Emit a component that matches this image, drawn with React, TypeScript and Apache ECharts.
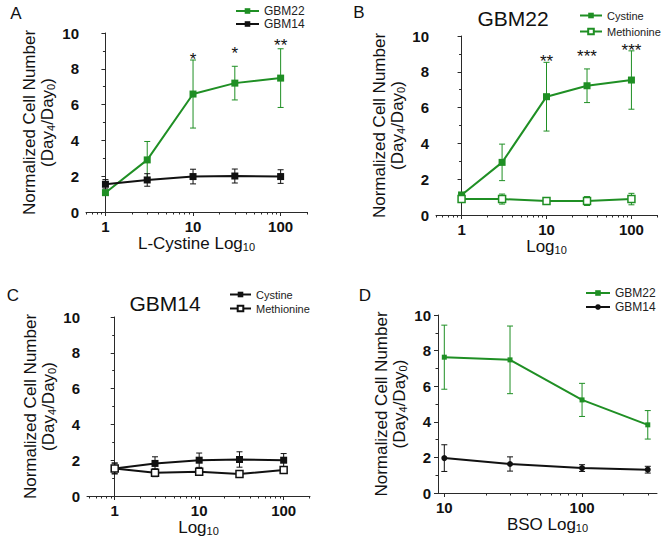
import React, { useEffect, useRef } from "react";
import * as echarts from "echarts";

// ---------- data ----------
const concA = [1, 3, 10, 30, 100];
const aGbm22 = [1.08, 2.91, 6.59, 7.2, 7.48];
const aGbm22Err = [0.12, 1.03, 1.9, 0.94, 1.64];
const aGbm14 = [1.55, 1.79, 1.98, 2.01, 1.98];
const aGbm14Err = [0.26, 0.35, 0.41, 0.39, 0.38];
const aStarConc = [10, 30, 100];
const aStarY = [8.77, 9.1, 9.53];
const aStarText = ["*", "*", "**"];

const concB = [1, 3, 10, 30, 100];
const bCystine = [1.12, 2.94, 6.61, 7.22, 7.54];
const bCystineErr = [0.1, 1.02, 1.92, 0.94, 1.63];
const bMethionine = [0.89, 0.89, 0.78, 0.78, 0.89];
const bMethionineErr = [0.18, 0.28, 0.19, 0.25, 0.32];
const bStarConc = [10, 30, 100];
const bStarY = [8.8, 9.07, 9.4];
const bStarText = ["**", "***", "***"];

const concC = [1, 3, 10, 30, 100];
const cCystine = [1.54, 1.82, 2.0, 2.04, 2.0];
const cCystineErr = [0.3, 0.37, 0.4, 0.43, 0.37];
const cMethionine = [1.54, 1.3, 1.36, 1.23, 1.45];
const cMethionineErr = [0.3, 0.22, 0.2, 0.1, 0.15];

const concD = [10, 30, 100, 300];
const dGbm22 = [7.63, 7.48, 5.23, 3.83];
const dGbm22Err = [1.8, 1.9, 0.93, 0.8];
const dGbm14 = [1.96, 1.63, 1.4, 1.31];
const dGbm14Err = [0.75, 0.4, 0.19, 0.19];

const majorTicks13 = [1, 10, 100];
const minorTicks13 = [0.5, 0.6, 0.7, 0.8, 0.9, 2, 3, 4, 5, 6, 7, 8, 9, 20, 30, 40, 50, 60, 70, 80, 90, 200];
const majorTicksD = [10, 100];
const minorTicksD = [20, 30, 40, 50, 60, 70, 80, 90, 200, 300];

// ---------- styles ----------
const GREEN = "#1f8f24";
const BLACK = "#111111";
const AXIS = "#2a2a2a";
const FONT = "'Liberation Sans', Arial, Helvetica, sans-serif";

const lg = (v: number) => Math.log10(v);

type Panel = {
  grid: { left: number; top: number; width: number; height: number };
  xMin: number;
  xMax: number;
  majors: number[];
  minors: number[];
  xName: string;
};

const panels: Panel[] = [
  { grid: { left: 86, top: 33, width: 221, height: 179 }, xMin: 0.6, xMax: 200, majors: majorTicks13, minors: minorTicks13, xName: "{m|L-Cystine Log}{s|10}" },
  { grid: { left: 436, top: 36, width: 221, height: 179 }, xMin: 0.5, xMax: 200, majors: majorTicks13, minors: minorTicks13, xName: "{m|Log}{s|10}" },
  { grid: { left: 87, top: 317, width: 223, height: 179 }, xMin: 0.47, xMax: 205, majors: majorTicks13, minors: minorTicks13, xName: "{m|Log}{s|10}" },
  { grid: { left: 438, top: 315, width: 219, height: 178 }, xMin: 9, xMax: 350, majors: majorTicksD, minors: minorTicksD, xName: "{m|BSO Log}{s|10}" },
];

const richName = {
  m: { fontSize: 17, lineHeight: 18, fontFamily: FONT, color: "#111" },
  s: { fontSize: 11, lineHeight: 6, verticalAlign: "bottom", fontFamily: FONT, color: "#111" },
};

function buildOption() {
  const grid: any[] = [];
  const xAxis: any[] = [];
  const yAxis: any[] = [];
  const series: any[] = [];

  panels.forEach((p, i) => {
    grid.push({ ...p.grid, containLabel: false });
    const min = lg(p.xMin);
    const max = lg(p.xMax);
    const minorsIn = p.minors.filter((v) => v >= p.xMin && v <= p.xMax).map(lg);
    xAxis.push({
      type: "value",
      gridIndex: i,
      min,
      max,
      position: "bottom",
      axisLine: { show: true, lineStyle: { color: AXIS, width: 1 } },
      axisTick: { show: true, customValues: p.majors.map(lg), length: 4, lineStyle: { color: AXIS } },
      axisLabel: {
        customValues: p.majors.map(lg),
        formatter: (v: number) => String(Math.round(Math.pow(10, v))),
        fontWeight: "bold",
        fontSize: 15,
        fontFamily: FONT,
        color: "#111",
        margin: 7,
      },
      splitLine: { show: false },
      name: p.xName,
      nameLocation: "middle",
      nameGap: 19,
      nameTextStyle: { rich: richName },
    });
    xAxis.push({
      type: "value",
      gridIndex: i,
      min,
      max,
      position: "bottom",
      axisLine: { show: false },
      axisTick: { show: true, customValues: minorsIn, length: 2.5, lineStyle: { color: AXIS } },
      axisLabel: { show: false },
      splitLine: { show: false },
    });
    yAxis.push({
      type: "value",
      gridIndex: i,
      min: 0,
      max: 10,
      interval: 2,
      axisLine: { show: true, lineStyle: { color: AXIS, width: 1 } },
      axisTick: { show: true, length: 4, lineStyle: { color: AXIS } },
      minorTick: { show: true, splitNumber: 2, length: 2.5, lineStyle: { color: AXIS } },
      axisLabel: { fontWeight: "bold", fontSize: 15, fontFamily: FONT, color: "#111", margin: 7 },
      splitLine: { show: false },
      name: "{m|Normalized Cell Number}\n{m|(Day}{s|4}{m|/Day}{s|0}{m|)}",
      nameLocation: "middle",
      nameRotate: 90,
      nameGap: 30,
      nameTextStyle: { rich: richName },
    });
  });

  const addLine = (
    name: string,
    panel: number,
    conc: number[],
    vals: number[],
    errs: number[],
    color: string,
    symbol: string,
    size: number,
    open: boolean
  ) => {
    series.push({
      type: "custom",
      name: name + "-err",
      xAxisIndex: panel * 2,
      yAxisIndex: panel,
      z: 1,
      silent: true,
      encode: { x: 0, y: 1 },
      data: conc.map((c, k) => [lg(c), vals[k], errs[k]]),
      renderItem: (params: any, api: any) => {
        const x = api.value(0);
        const y = api.value(1);
        const e = api.value(2);
        const t = api.coord([x, y + e]);
        const b = api.coord([x, y - e]);
        const hw = 3;
        const st = { stroke: color, lineWidth: 1 };
        return {
          type: "group",
          children: [
            { type: "line", shape: { x1: t[0], y1: t[1], x2: b[0], y2: b[1] }, style: st },
            { type: "line", shape: { x1: t[0] - hw, y1: t[1], x2: t[0] + hw, y2: t[1] }, style: st },
            { type: "line", shape: { x1: b[0] - hw, y1: b[1], x2: b[0] + hw, y2: b[1] }, style: st },
          ],
        };
      },
    });
    series.push({
      type: "line",
      name,
      xAxisIndex: panel * 2,
      yAxisIndex: panel,
      z: 3,
      data: conc.map((c, k) => [lg(c), vals[k]]),
      symbol,
      symbolSize: size,
      showAllSymbol: true,
      lineStyle: { color, width: 2 },
      itemStyle: open
        ? { color: "#ffffff", borderColor: color, borderWidth: 1.5 }
        : { color, borderColor: color, borderWidth: 0 },
    });
  };

  addLine("A|GBM22", 0, concA, aGbm22, aGbm22Err, GREEN, "rect", 7, false);
  addLine("A|GBM14", 0, concA, aGbm14, aGbm14Err, BLACK, "rect", 7, false);
  addLine("B|Cystine", 1, concB, bCystine, bCystineErr, GREEN, "rect", 7, false);
  addLine("B|Methionine", 1, concB, bMethionine, bMethionineErr, GREEN, "rect", 7, true);
  addLine("C|Cystine", 2, concC, cCystine, cCystineErr, BLACK, "rect", 7, false);
  addLine("C|Methionine", 2, concC, cMethionine, cMethionineErr, BLACK, "rect", 7, true);
  addLine("D|GBM22", 3, concD, dGbm22, dGbm22Err, GREEN, "rect", 5, false);
  addLine("D|GBM14", 3, concD, dGbm14, dGbm14Err, BLACK, "circle", 6, false);

  const addStars = (panel: number, conc: number[], ys: number[], texts: string[]) => {
    series.push({
      type: "custom",
      name: "stars" + panel,
      xAxisIndex: panel * 2,
      yAxisIndex: panel,
      z: 5,
      silent: true,
      encode: { x: 0, y: 1 },
      data: conc.map((c, k) => [lg(c), ys[k]]),
      renderItem: (params: any, api: any) => {
        const pt = api.coord([api.value(0), api.value(1)]);
        return {
          type: "text",
          x: pt[0],
          y: pt[1] + 4,
          style: {
            text: texts[params.dataIndex],
            fontSize: 17,
            fontFamily: FONT,
            fill: "#111",
            align: "center",
            verticalAlign: "middle",
          },
        };
      },
    });
  };
  addStars(0, aStarConc, aStarY, aStarText);
  addStars(1, bStarConc, bStarY, bStarText);

  const legendBase = {
    orient: "vertical",
    itemHeight: 7,
    padding: 0,
    selectedMode: false,
    formatter: (n: string) => n.split("|")[1],
    textStyle: { fontSize: 12, fontFamily: FONT, color: "#222" },
  };
  const smallText = { ...legendBase.textStyle, fontSize: 11 };
  const legend = [
    { ...legendBase, left: 235, top: 5, itemWidth: 23, itemGap: 1, data: ["A|GBM22", "A|GBM14"] },
    { ...legendBase, left: 579, top: 10, itemWidth: 22, itemGap: 5, textStyle: smallText, data: ["B|Cystine", "B|Methionine"] },
    { ...legendBase, left: 229, top: 289, itemWidth: 21, itemGap: 3, textStyle: smallText, data: ["C|Cystine", "C|Methionine"] },
    { ...legendBase, left: 585, top: 287, itemWidth: 24, itemGap: 2, data: ["D|GBM22", "D|GBM14"] },
  ];

  const txt = (x: number, y: number, text: string, size: number) => ({
    type: "text",
    x,
    y,
    style: { text, fontSize: size, fontFamily: FONT, fill: "#111", align: "center", verticalAlign: "middle" },
  });
  const graphic = [
    txt(16, 13, "A", 17),
    txt(359, 12, "B", 17),
    txt(13, 295, "C", 17),
    txt(365, 295, "D", 17),
    txt(513, 18, "GBM22", 21),
    txt(165, 303, "GBM14", 21),
  ];

  return {
    animation: false,
    backgroundColor: "#ffffff",
    grid,
    xAxis,
    yAxis,
    series,
    legend,
    graphic,
  };
}

export default function App() {
  const ref = useRef<HTMLDivElement>(null);
  useEffect(() => {
    if (!ref.current) return;
    const chart = echarts.init(ref.current, null, { renderer: "svg" });
    chart.setOption(buildOption() as any);
    return () => chart.dispose();
  }, []);
  return (
    <div
      ref={ref}
      style={{ position: "fixed", left: 0, top: 0, width: 664, height: 540, background: "#fff" }}
    />
  );
}
